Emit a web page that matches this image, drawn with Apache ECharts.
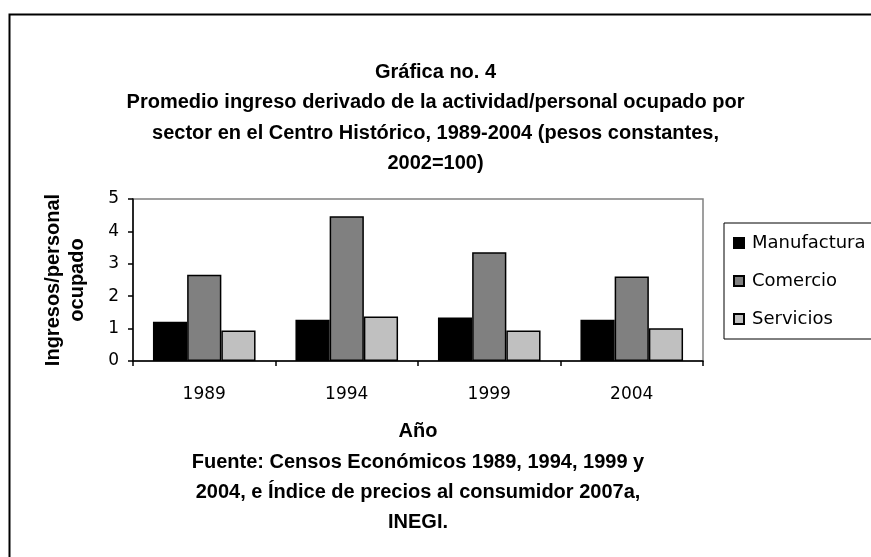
<!DOCTYPE html>
<html>
<head>
<meta charset="utf-8">
<script src="https://cdn.jsdelivr.net/npm/echarts@6/dist/echarts.min.js"></script>
<style>
  html, body { margin: 0; padding: 0; background: #fff; }
</style>
</head>
<body>
<div id="chart" style="width: 871px;height:557px;"></div>
<script>
// datos
const years = ['1989', '1994', '1999', '2004']
const manufactura = [1.21, 1.27, 1.34, 1.27]
const comercio = [2.66, 4.47, 3.36, 2.61]
const servicios = [0.94, 1.37, 0.94, 1.01]
const seriesNames = ['Manufactura', 'Comercio', 'Servicios']
const seriesColors = ['#000000', '#808080', '#c0c0c0']

const boldFont = 'Liberation Sans'
const plainFont = 'DejaVu Sans'

const chartDom = document.getElementById('chart');
const myChart = echarts.init(chartDom);

const seriesData = [manufactura, comercio, servicios]
const series = seriesData.map((data, i) => ({
  name: seriesNames[i],
  type: 'bar',
  data: data,
  barGap: '0%',
  barCategoryGap: '28%',
  itemStyle: {
    color: seriesColors[i],
    borderColor: '#000',
    borderWidth: 1.5
  }
}))

const option = {
  animation: false,
  backgroundColor: '#fff',
  title: {
    text: 'Gráfica no. 4\nPromedio ingreso derivado de la actividad/personal ocupado por\nsector en el Centro Histórico, 1989-2004 (pesos constantes,\n2002=100)',
    left: 'center',
    top: 57,
    padding: 0,
    textStyle: {
      fontFamily: boldFont,
      fontWeight: 'bold',
      fontSize: 20,
      lineHeight: 30.5,
      color: '#000'
    }
  },
  legend: {
    orient: 'vertical',
    left: 724,
    top: 223,
    padding: [11, 40, 11, 9],
    itemGap: 20,
    itemWidth: 10,
    itemHeight: 10,
    icon: 'rect',
    borderColor: '#000',
    borderWidth: 1,
    textStyle: {
      fontFamily: plainFont,
      fontSize: 18,
      color: '#000',
      padding: [0, 0, 0, 3]
    },
    data: seriesNames
  },
  grid: {
    left: 133,
    right: 168,
    top: 199,
    bottom: 196,
    show: true,
    borderColor: '#808080',
    borderWidth: 1.5
  },
  xAxis: {
    type: 'category',
    data: years,
    name: 'Año',
    nameLocation: 'middle',
    nameGap: 60,
    nameTextStyle: {
      fontFamily: boldFont,
      fontWeight: 'bold',
      fontSize: 20,
      color: '#000'
    },
    axisLine: {lineStyle: {color: '#000', width: 1.5}},
    axisTick: {show: true, length: 5, lineStyle: {color: '#000', width: 1.5}},
    axisLabel: {
      fontFamily: plainFont,
      fontSize: 17,
      color: '#000',
      margin: 25
    }
  },
  yAxis: {
    type: 'value',
    min: 0,
    max: 5,
    interval: 1,
    name: 'Ingresos/personal\nocupado',
    nameLocation: 'middle',
    nameRotate: 90,
    nameGap: 44,
    nameTextStyle: {
      fontFamily: boldFont,
      fontWeight: 'bold',
      fontSize: 20,
      lineHeight: 24,
      color: '#000'
    },
    splitLine: {show: false},
    axisLine: {show: true, lineStyle: {color: '#000', width: 1.5}},
    axisTick: {show: true, length: 5, lineStyle: {color: '#000', width: 1.5}},
    axisLabel: {
      fontFamily: plainFont,
      fontSize: 17,
      color: '#000',
      margin: 14
    }
  },
  graphic: [
    {
      type: 'rect',
      left: 7,
      top: 12,
      shape: {width: 1000, height: 1000},
      style: {fill: 'none', stroke: '#000', lineWidth: 2}
    },
    {
      type: 'text',
      x: 418,
      y: 447,
      style: {
        text: 'Fuente: Censos Económicos 1989, 1994, 1999 y\n2004, e Índice de precios al consumidor 2007a,\nINEGI.',
        align: 'center',
        verticalAlign: 'top',
        fontFamily: boldFont,
        fontWeight: 'bold',
        fontSize: 20,
        lineHeight: 30,
        fill: '#000'
      }
    }
  ],
  series: series
};
option && myChart.setOption(option);
</script>
</body>
</html>
